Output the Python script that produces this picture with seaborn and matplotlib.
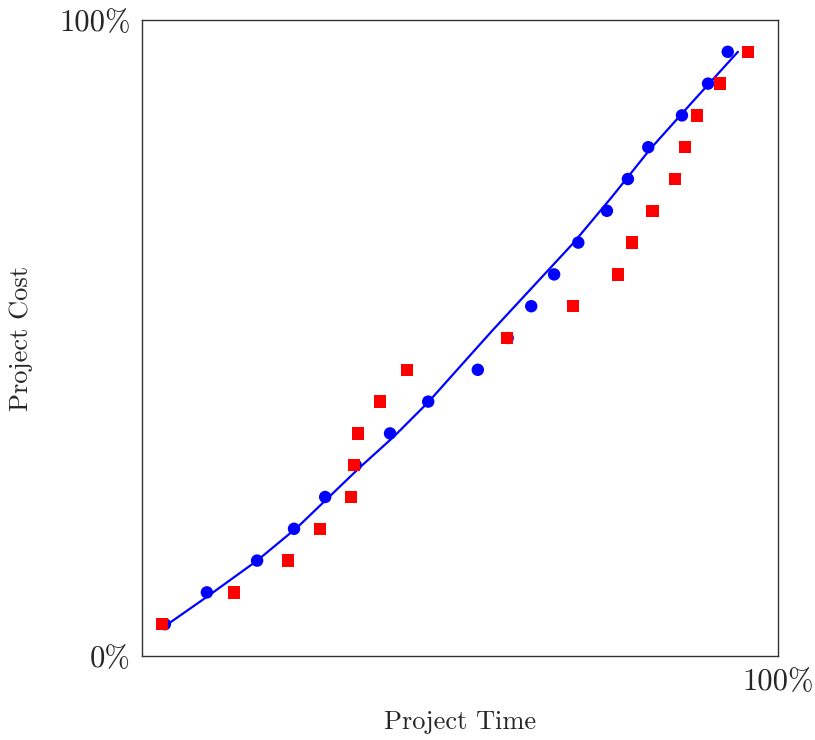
import numpy as np
import pandas as pd
import seaborn as sns
import matplotlib.pyplot as plt

# Values (percent of total)
cost_levels = [5, 10, 15, 20, 25, 30, 35, 40, 45, 50, 55, 60, 65, 70, 75, 80, 85, 90, 95]
blue_time = [3.6, 10.2, 18.1, 23.9, 28.8, 33.6, 39.0, 45.0, 52.8, 57.5, 61.2,
             64.8, 68.6, 73.1, 76.4, 79.6, 84.9, 89.0, 92.1]
red_time = [3.1, 14.5, 23.0, 28.0, 32.9, 33.3, 34.0, 37.4, 41.7, 57.4, 67.8,
            74.8, 77.0, 80.3, 83.8, 85.4, 87.3, 90.9, 95.3]

# points
curve_time = [3.9, 10.2, 18.1, 24.5, 29.4, 34.3, 39.6, 45.0, 50.0, 55.2, 61.5,
              67.8, 73.9, 79.9, 86.8, 93.7]
curve_cost = [4.9, 9.3, 15.0, 20.3, 25.0, 29.7, 34.5, 39.9, 45.5, 51.3, 58.1,
              64.9, 72.2, 79.7, 87.4, 95.0]

sns.set_style("white")
plt.rcParams["font.family"] = ["cmr10", "DejaVu Serif"]
plt.rcParams["axes.unicode_minus"] = False
plt.rcParams["axes.formatter.use_mathtext"] = True

fig = plt.figure(figsize=(8.15, 7.4), dpi=100)
ax = fig.add_axes([142 / 815, 84 / 740, 636 / 815, 636 / 740])

curve = pd.DataFrame({"time": curve_time, "cost": curve_cost})
blue = pd.DataFrame({"time": blue_time, "cost": cost_levels})
red = pd.DataFrame({"time": red_time, "cost": cost_levels})

sns.lineplot(data=curve, x="time", y="cost", color="#0000ff", lw=1.6, ax=ax, sort=False)
sns.scatterplot(data=blue, x="time", y="cost", color="#0000ff", marker="o", s=80,
                edgecolor="none", ax=ax, zorder=3)
sns.scatterplot(data=red, x="time", y="cost", color="#ff0000", marker="s", s=80,
                edgecolor="none", ax=ax, zorder=4)

ax.set_xlim(0, 100)
ax.set_ylim(0, 100)
ax.set_xticks([100])
ax.set_xticklabels(["100%"], fontsize=22)
ax.set_yticks([0, 100])
ax.set_yticklabels(["0%", "100%"], fontsize=22)
ax.tick_params(axis="y", length=0, pad=8)
ax.tick_params(axis="x", length=0, pad=9)

ax.set_xlabel("Project Time", fontsize=19)
ax.set_ylabel("Project Cost", fontsize=19)
ax.xaxis.set_label_coords(0.5, -0.086)
ax.yaxis.set_label_coords(-0.172, 0.5)

for sp in ax.spines.values():
    sp.set_color("#333333")
    sp.set_linewidth(1.0)

fig.savefig("out.png", dpi=100)
